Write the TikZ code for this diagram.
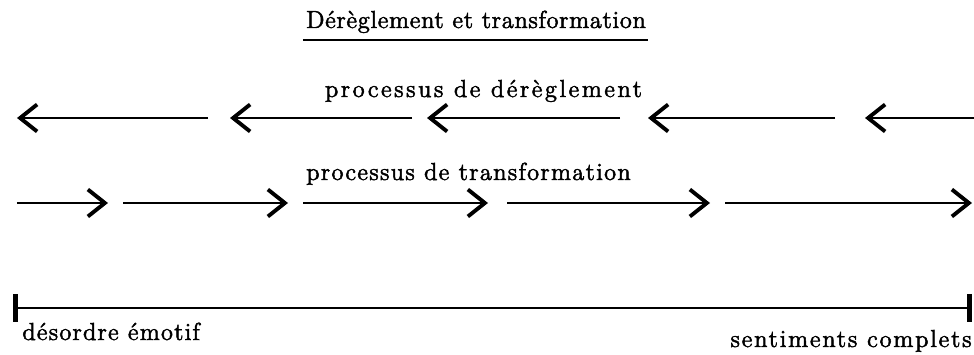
\documentclass[tikz,border=0pt]{standalone}
\usepackage{fontspec}
\setmainfont{lmroman12-regular.otf}
\usepackage{tikz}
\usetikzlibrary{arrows.meta,calc}

\tikzset{
  flow/.style={line width=1.5pt,-{Straight Barb[length=3.4mm,width=5.4mm,line width=2.2pt]}},
  label/.style={font=\fontsize{14}{17}\selectfont\addfontfeatures{LetterSpace=#1,FakeBold=2},inner sep=0pt,anchor=base},
  label/.default=4,
  axis/.style={line width=1.4pt,{Bar[width=5.6mm,line width=2.8pt]}-{Bar[width=5.6mm,line width=2.8pt]}}
}

\begin{document}
\begin{tikzpicture}
\useasboundingbox (0,0) rectangle (19.48,7.1);

% Title
\node[label=2.5] (title) at (9.52,6.54) {Dérèglement et transformation};
\draw[line width=1.3pt] ($(title.base west)+(-0.06,-0.24)$) -- ($(title.base east)+(0.04,-0.24)$);

% Processus de dereglement
\node[label=10] (dereg) at (9.67,5.16) {processus de dérèglement};
\coordinate (d1a) at (4.16,4.74); \coordinate (d1b) at (0.34,4.74);
\coordinate (d2a) at (8.24,4.74); \coordinate (d2b) at (4.60,4.74);
\coordinate (d3a) at (12.40,4.74); \coordinate (d3b) at (8.54,4.74);
\coordinate (d4a) at (16.70,4.74); \coordinate (d4b) at (12.96,4.74);
\coordinate (d5a) at (19.48,4.74); \coordinate (d5b) at (17.30,4.74);
\draw[flow] (d1a) -- (d1b);
\draw[flow] (d2a) -- (d2b);
\draw[flow] (d3a) -- (d3b);
\draw[flow] (d4a) -- (d4b);
\draw[flow] (d5a) -- (d5b);

% Processus de transformation
\node[label=5] (trans) at (9.37,3.50) {processus de transformation};
\coordinate (t1a) at (0.34,3.04); \coordinate (t1b) at (2.16,3.04);
\coordinate (t2a) at (2.46,3.04); \coordinate (t2b) at (5.76,3.04);
\coordinate (t3a) at (6.06,3.04); \coordinate (t3b) at (9.76,3.04);
\coordinate (t4a) at (10.14,3.04); \coordinate (t4b) at (14.20,3.04);
\coordinate (t5a) at (14.50,3.04); \coordinate (t5b) at (19.44,3.04);
\draw[flow] (t1a) -- (t1b);
\draw[flow] (t2a) -- (t2b);
\draw[flow] (t3a) -- (t3b);
\draw[flow] (t4a) -- (t4b);
\draw[flow] (t5a) -- (t5b);

% Axe
\coordinate (ax1) at (0.26,0.94);
\coordinate (ax2) at (19.44,0.94);
\draw[axis] (ax1) -- (ax2);
\node[label=4.6,anchor=base west] (desordre) at (0.44,0.30) {désordre émotif};
\node[label=7,anchor=base east] (sentiments) at (19.44,0.16) {sentiments complets};
\end{tikzpicture}
\end{document}
